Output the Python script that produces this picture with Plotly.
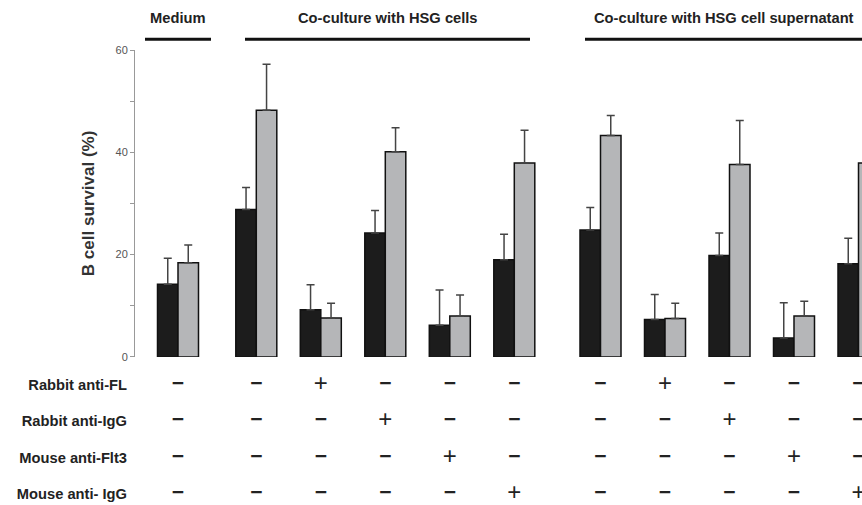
import plotly.graph_objects as go

# ---------------- data ----------------
section_names = ["Medium", "Co-culture with HSG cells", "Co-culture with HSG cell supernatant"]
section_sizes = [1, 5, 5]

black_vals = [14.2, 28.8, 9.2, 24.2, 6.2, 19.0, 24.8, 7.3, 19.8, 3.7, 18.2]
black_err = [5.1, 4.3, 4.9, 4.4, 6.9, 5.0, 4.4, 4.9, 4.4, 6.9, 5.0]
gray_vals = [18.4, 48.2, 7.6, 40.1, 8.0, 37.9, 43.3, 7.5, 37.6, 8.0, 37.9]
gray_err = [3.5, 9.0, 2.9, 4.7, 4.1, 6.4, 3.9, 3.0, 8.6, 2.9, 6.0]

row_labels = ["Rabbit anti-FL", "Rabbit anti-IgG", "Mouse anti-Flt3", "Mouse anti- IgG"]
# index of the row marked "+" for each group (None = all "-")
plus_row = [None, None, 0, 1, 2, 3, None, 0, 1, 2, 3]

y_tickvals = [0, 10, 20, 30, 40, 50, 60]
y_ticktext = ["0", "", "20", "", "40", "", "60"]

# ---------------- layout helpers ----------------
STEP = 64.5
section_start = [43, 121.3, 465.5]
centers = []
for s, n in zip(section_start, section_sizes):
    centers += [s + STEP * i for i in range(n)]
BW = 20.5
header_lines = [(10, 76), (110, 395), (450, 740)]
header_text_x = [43, 253, 589]

fig = go.Figure()
n = len(black_vals)
fig.add_trace(go.Bar(
    x=centers, y=black_vals, width=[BW] * n, offset=[-BW] * n,
    marker=dict(color="#1c1c1c", line=dict(color="#111", width=1.5)),
    error_y=dict(type="data", symmetric=False, array=black_err, arrayminus=[0] * n,
                 color="#444", thickness=1.5, width=4),
    xaxis="x", yaxis="y"))
fig.add_trace(go.Bar(
    x=centers, y=gray_vals, width=[BW] * n, offset=[0] * n,
    marker=dict(color="#b5b6b8", line=dict(color="#111", width=1.5)),
    error_y=dict(type="data", symmetric=False, array=gray_err, arrayminus=[0] * n,
                 color="#444", thickness=1.5, width=4),
    xaxis="x", yaxis="y"))

# treatment table signs
px_, py_, mx_, my_ = [], [], [], []
for g, pr in enumerate(plus_row):
    for r in range(len(row_labels)):
        yv = len(row_labels) - 1 - r
        if pr == r:
            px_.append(centers[g]); py_.append(yv)
        else:
            mx_.append(centers[g]); my_.append(yv)
fig.add_trace(go.Scatter(x=px_, y=py_, mode="text", text=["+"] * len(px_),
                         textfont=dict(family="Liberation Sans", size=24, color="#222"),
                         xaxis="x", yaxis="y2", hoverinfo="skip", cliponaxis=False))
fig.add_trace(go.Scatter(x=mx_, y=my_, mode="text", text=["−"] * len(mx_),
                         textfont=dict(family="Liberation Sans", size=21, color="#222", weight="bold"),
                         xaxis="x", yaxis="y2", hoverinfo="skip", cliponaxis=False))

shapes = []
for (a, b) in header_lines:
    shapes.append(dict(type="line", xref="x", yref="paper", x0=a, x1=b, y0=1.0237, y1=1.0237,
                       line=dict(color="#111", width=3)))
annotations = []
for name, xc in zip(section_names, header_text_x):
    annotations.append(dict(text="<b>" + name + "</b>", x=xc, xref="x", y=1.0705, yref="paper",
                            showarrow=False, xanchor="center", yanchor="middle",
                            font=dict(family="Liberation Sans", size=14.7, color="#222")))
annotations.append(dict(text="<b>B cell survival (%)</b>", x=-0.0646, xref="paper", y=0.659, yref="paper",
                        showarrow=False, textangle=-90, xanchor="center", yanchor="middle",
                        font=dict(family="Liberation Sans", size=17, color="#333")))

fig.update_layout(
    width=862, height=505, autosize=False,
    margin=dict(l=135, r=0, t=50, b=0),
    paper_bgcolor="white", plot_bgcolor="white",
    showlegend=False, barmode="overlay",
    xaxis=dict(range=[0, 727], visible=False),
    yaxis=dict(range=[0, 60], domain=[0.3165, 1], tickvals=y_tickvals, ticktext=y_ticktext,
               ticks="outside", ticklen=4, tickcolor="#999", showline=True, linecolor="#999",
               linewidth=1, tickfont=dict(family="Liberation Sans", size=11, color="#555"),
               showgrid=False, zeroline=False),
    yaxis2=dict(range=[-0.1354, 3.561], domain=[0, 0.3], anchor="x",
                tickvals=[3, 2, 1, 0], ticktext=row_labels, ticks="", showline=False,
                showgrid=False, zeroline=False, ticklabelstandoff=7,
                tickfont=dict(family="Liberation Sans", size=14.7, color="#222", weight="bold")),
    shapes=shapes, annotations=annotations,
)

fig.write_html("out.html", config={"responsive": False, "displayModeBar": False},
               post_script="document.body.style.margin='0';document.body.style.overflow='hidden';")
